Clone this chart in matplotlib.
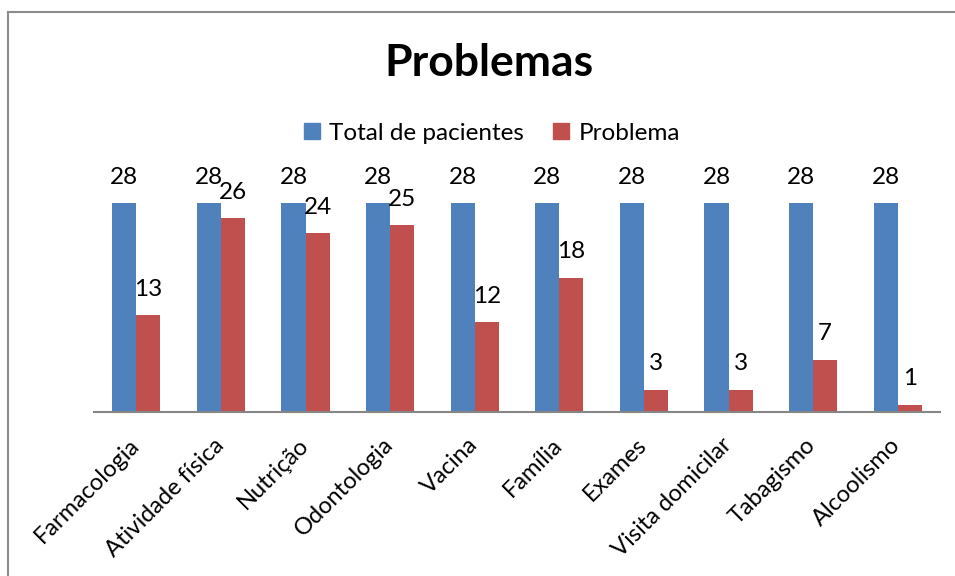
import matplotlib
matplotlib.use("Agg")
import matplotlib.pyplot as plt
from matplotlib.lines import Line2D
from matplotlib.patches import Patch
from matplotlib.transforms import ScaledTranslation
import numpy as np

plt.rcParams['font.family'] = ['Lato', 'DejaVu Sans']

categories = ["Farmacologia", "Atividade física", "Nutrição", "Odontologia", "Vacina",
              "Família", "Exames", "Visita domicilar", "Tabagismo", "Alcoolismo"]
total = [28, 28, 28, 28, 28, 28, 28, 28, 28, 28]
problema = [13, 26, 24, 25, 12, 18, 3, 3, 7, 1]

blue = "#4F81BD"
red = "#C0504D"

W, H = 955, 576
fig = plt.figure(figsize=(W / 100, H / 100), dpi=100)
ax = fig.add_axes([94 / W, 1 - 412 / H, (940 - 94) / W, (412 - 188) / H])

x = np.arange(len(categories))
bw = 0.284
b1 = ax.bar(x - bw / 2, total, bw, color=blue, label="Total de pacientes")
b2 = ax.bar(x + bw / 2, problema, bw, color=red, label="Problema")

for rect, v in zip(b1, total):
    ax.annotate(str(v), (rect.get_x() + rect.get_width() / 2, v), xytext=(0, 11),
                textcoords="offset points", ha="center", va="bottom", fontsize=17.5, clip_on=False)
for rect, v in zip(b2, problema):
    ax.annotate(str(v), (rect.get_x() + rect.get_width() / 2, v), xytext=(0, 11),
                textcoords="offset points", ha="center", va="bottom", fontsize=17.5, clip_on=False)

ax.set_xlim(-0.5, len(categories) - 0.5)
ax.set_ylim(0, 30)
ax.set_yticks([])
for s in ["top", "right", "left"]:
    ax.spines[s].set_visible(False)
ax.spines["bottom"].set_color("#868686")
ax.spines["bottom"].set_linewidth(1.5)
ax.set_xticks(x)
ax.set_xticklabels(categories, rotation=45, ha="right", rotation_mode="anchor", fontsize=17)
ax.tick_params(axis="x", length=0, pad=16)
shift = ScaledTranslation(-8 / 100, 0, fig.dpi_scale_trans)
for lbl in ax.get_xticklabels():
    lbl.set_transform(lbl.get_transform() + shift)

fig.text(489 / W, 1 - 63 / H, "Problemas", ha="center", va="center", fontsize=32, fontweight="bold")

handles = [Patch(color=blue), Patch(color=red)]
fig.legend(handles, ["Total de pacientes", "Problema"], loc="center", bbox_to_anchor=(492 / W, 1 - 133 / H),
           ncol=2, frameon=False, fontsize=17.5, handlelength=0.65, handleheight=0.65, handletextpad=0.4,
           columnspacing=1.2)

fig.add_artist(Line2D([8 / W, 1.0], [1 - 12 / H, 1 - 12 / H], transform=fig.transFigure, color="#8C8C8C", lw=1.5))
fig.add_artist(Line2D([8 / W, 8 / W], [0, 1 - 12 / H], transform=fig.transFigure, color="#8C8C8C", lw=1.5))

fig.savefig("out.png", dpi=100)
